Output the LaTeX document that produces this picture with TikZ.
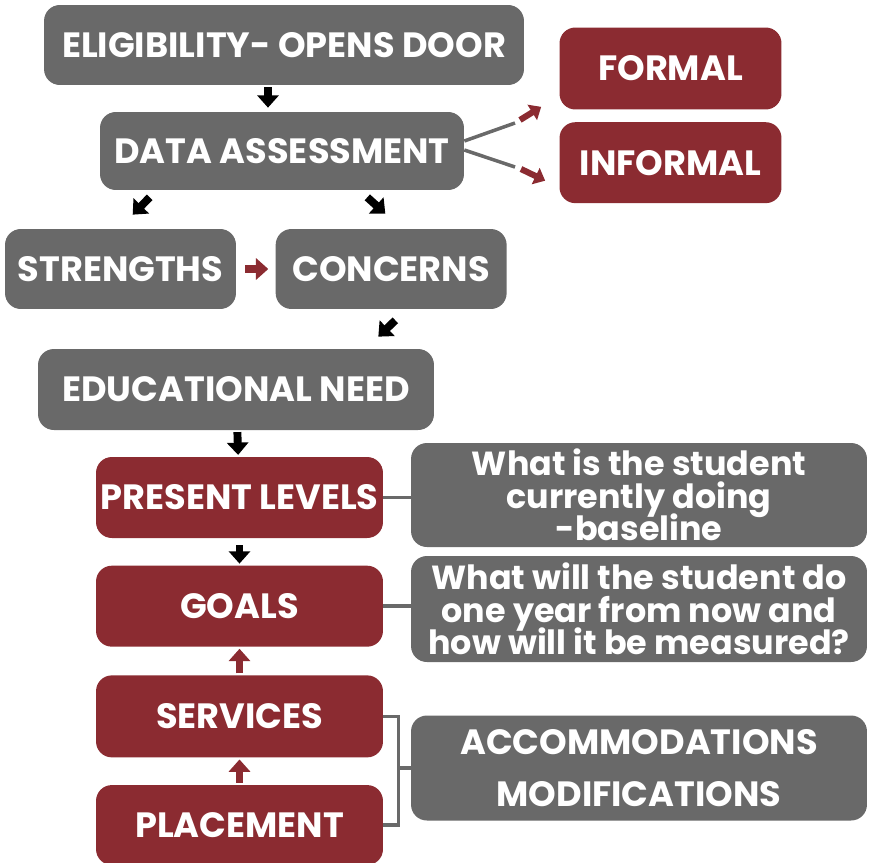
\documentclass[tikz,border=0pt]{standalone}
\usepackage{fontspec}
\setmainfont{Poppins}
\usepackage{xcolor}
\usetikzlibrary{calc}
\usetikzlibrary{positioning}
\usetikzlibrary{arrows.meta}

\definecolor{boxgray}{HTML}{696969}
\definecolor{boxred}{HTML}{8B2B31}
\newcommand{\notefont}{\fontsize{19}{18.5}\selectfont\bfseries\lineskiplimit=-20pt\relax}

\begin{document}
\begin{tikzpicture}[x=0.02cm,y=-0.02cm]
		\tikzstyle{graybox} = [fill=boxgray, text=white, rounded corners=9pt, font=\fontsize{20}{24}\selectfont\bfseries, align=center, inner sep=0pt]
		\tikzstyle{redbox} = [graybox, fill=boxred]
		\tikzstyle{notebox} = [graybox, minimum width=9.12cm, font=\notefont]
		\tikzstyle{blkarrow} = [draw, line width=4.5pt, -{Triangle[length=7pt,width=12pt]}]
		\tikzstyle{redarrow} = [blkarrow, draw=boxred]
		\tikzstyle{smallarrow} = [draw=boxred, line width=3.5pt, -{Triangle[length=6pt,width=10pt]}]
		\tikzstyle{link} = [draw=boxgray, line width=2pt]

		\useasboundingbox (0,0) rectangle (871,862);

		\node[graybox, minimum width=9.6cm, minimum height=1.6cm] (Eligibility) at (284,45) {ELIGIBILITY- OPENS DOOR};
		\node[graybox, minimum width=7.28cm, minimum height=1.56cm] (Assessment) at (282,151) {DATA ASSESSMENT};
		\node[redbox, minimum width=4.44cm, minimum height=1.64cm] (Formal) at (670.5,68.5) {FORMAL};
		\node[redbox, minimum width=4.44cm, minimum height=1.62cm, below=0.24cm of Formal] (Informal) {INFORMAL};
		\node[graybox, minimum width=4.62cm, minimum height=1.6cm] (Strengths) at (120.5,269) {STRENGTHS};
		\node[graybox, minimum width=4.62cm, minimum height=1.6cm, right=0.78cm of Strengths] (Concerns) {CONCERNS};
		\node[graybox, minimum width=7.92cm, minimum height=1.62cm] (Need) at (236,389.5) {EDUCATIONAL NEED};
		\node[redbox, minimum width=5.74cm, minimum height=1.62cm] (Present) at (239.5,497.5) {PRESENT LEVELS};
		\node[redbox, minimum width=5.74cm, minimum height=1.62cm, below=0.54cm of Present] (Goals) {GOALS};
		\node[redbox, minimum width=5.74cm, minimum height=1.64cm, below=0.56cm of Goals] (Services) {SERVICES};
		\node[redbox, minimum width=5.74cm, minimum height=1.6cm, below=0.54cm of Services] (Placement) {PLACEMENT};
		\node[notebox, minimum height=2.08cm] (Baseline) at (639,495) {What is the student\\currently doing\\-baseline};
		\node[notebox, minimum height=2.12cm] (Measured) at (639,609) {What will the student do\\one year from now and\\how will it be measured?};
		\node[graybox, minimum width=9.12cm, minimum height=2.1cm, font=\fontsize{20}{30}\selectfont\bfseries] (Adjustments) at (639,768) {ACCOMMODATIONS\\MODIFICATIONS};

		\coordinate (FormalBend) at (515,123);
		\coordinate (InformalBend) at (515,167);
		\coordinate (Bracket) at ($(Services.east)+(15,0)$);

		\draw[link] ($(Assessment.east)+(0,-10)$) -- (FormalBend);
		\draw[link] ($(Assessment.east)+(0,-1)$) -- (InformalBend);
		\draw[smallarrow] ($(FormalBend)+(5,-3)$) -- ($(Formal.south west)+(-18,-3)$);
		\draw[smallarrow] ($(InformalBend)+(6,2)$) -- ($(Informal.west)+(-14,18)$);
		\draw[link] (Present.east) -- (Present.east -| Baseline.west);
		\draw[link] (Goals.east) -- (Goals.east -| Measured.west);
		\draw[link] (Services.east) -- (Bracket) |- (Placement.east);
		\draw[link] (Adjustments.west) -- (Adjustments.west -| Bracket);

		\draw[blkarrow] ($(Eligibility.south)+(-16,2)$) -- ($(Assessment.north)+(-14,-4)$);
		\draw[blkarrow] ($(Assessment.south west)+(50,7)$) -- ($(Strengths.north west)+(128,-14)$);
		\draw[blkarrow] ($(Assessment.south east)+(-97,7)$) -- ($(Concerns.north west)+(110,-15)$);
		\draw[redarrow, shorten <=5pt, shorten >=4pt] (Strengths) -- (Concerns);
		\draw[blkarrow] ($(Concerns.south west)+(120,11)$) -- ($(Need.north east)+(-56,-12)$);
		\draw[blkarrow, shorten <=1pt, shorten >=1pt] (Need) -- (Present);
		\draw[blkarrow, shorten <=4pt, shorten >=1pt] (Present) -- (Goals);
		\draw[redarrow, shorten <=1pt, shorten >=1pt] (Services) -- (Goals);
		\draw[redarrow, shorten <=1pt, shorten >=1pt] (Placement) -- (Services);

	\end{tikzpicture}
\end{document}
